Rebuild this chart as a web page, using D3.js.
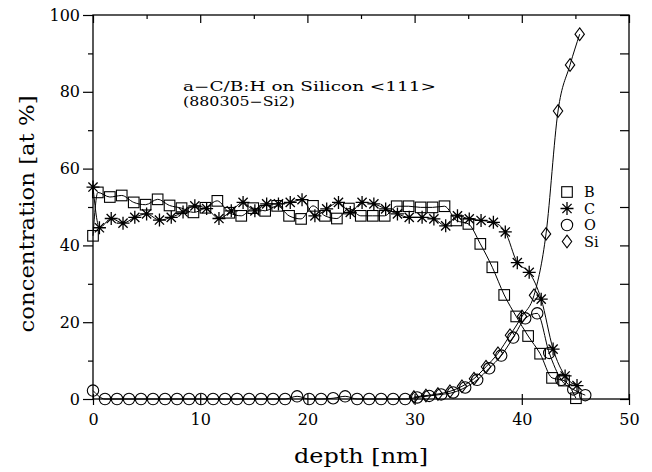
<!DOCTYPE html>
<html><head><meta charset="utf-8">
<script src="https://cdn.jsdelivr.net/npm/d3@7"></script>
<style>html,body{margin:0;padding:0;background:#fff;} svg{display:block;}</style>
</head><body>
<svg id="chart" width="652" height="472"></svg>
<script>
// ---------- data ----------
const depthB = [0, 0.45, 1.57, 2.68, 3.80, 4.91, 6.03, 7.14, 8.26, 9.37, 10.49, 11.60, 12.72, 13.83, 14.95, 16.06, 17.18, 18.29, 19.41, 20.52, 21.64, 22.75, 23.87, 24.98, 26.10, 27.21, 28.33, 29.44, 30.56, 31.67, 32.79, 33.90, 35.02, 36.13, 37.25, 38.36, 39.48, 40.59, 41.71, 42.82, 43.94, 45.05];
const valuesB = [42.5, 53.8, 52.6, 53.0, 51.2, 50.6, 52.0, 50.4, 49.7, 48.6, 49.8, 51.6, 48.5, 47.7, 49.7, 49.0, 50.3, 47.7, 46.9, 50.3, 47.7, 47.0, 49.6, 47.7, 47.7, 47.7, 50.2, 50.2, 49.9, 49.9, 50.2, 46.5, 45.6, 40.4, 34.3, 27.1, 21.5, 16.4, 11.8, 5.5, 4.8, 0.2];

const depthC = [0, 0.6, 1.7, 2.8, 3.9, 5.0, 6.2, 7.3, 8.4, 9.5, 10.6, 11.75, 12.9, 14.0, 15.1, 16.2, 17.3, 18.4, 19.5, 20.7, 21.8, 22.9, 24.0, 25.1, 26.2, 27.3, 28.4, 29.5, 30.7, 31.8, 32.9, 34.0, 35.1, 36.2, 37.35, 38.46, 39.58, 40.69, 41.81, 42.92, 44.04, 45.15];
const valuesC = [55.2, 44.6, 47.0, 45.8, 47.3, 48.2, 46.6, 47.3, 48.7, 50.3, 49.6, 47.0, 49.0, 51.2, 49.0, 50.8, 50.8, 51.2, 51.9, 47.7, 49.5, 51.2, 48.6, 51.2, 50.8, 49.5, 48.2, 47.3, 47.3, 46.9, 45.1, 47.7, 46.9, 46.5, 46.0, 43.5, 35.5, 33.0, 26.0, 13.0, 6.0, 3.5];

const depthO = [0, 1.12, 2.24, 3.36, 4.48, 5.6, 6.72, 7.84, 8.96, 10.08, 11.2, 12.32, 13.44, 14.56, 15.68, 16.8, 17.92, 19.04, 20.16, 21.28, 22.4, 23.52, 24.64, 25.76, 26.88, 28.0, 29.12, 30.24, 31.36, 32.48, 33.6, 34.72, 35.84, 36.96, 38.08, 39.2, 40.32, 41.44, 42.56, 43.68, 44.8, 45.92];
const valuesO = [2.2, 0, 0, 0, 0, 0, 0, 0, 0, 0, 0, 0, 0, 0, 0, 0, 0, 0.7, 0, 0, 0.2, 0.7, 0, 0, 0, 0, 0, 0.4, 0.8, 1.2, 1.7, 3.0, 5.0, 8.0, 11.3, 16.0, 21.0, 22.3, 12.0, 5.0, 2.5, 1.0];

const depthSi = [29.94, 31.06, 32.18, 33.3, 34.42, 35.54, 36.66, 37.78, 38.9, 40.02, 41.14, 42.26, 43.38, 44.5, 45.4];
const valuesSi = [0.5, 0.9, 1.3, 2.0, 3.3, 5.3, 8.4, 11.9, 16.6, 21.5, 27.0, 43.0, 75.0, 87.0, 95.0];

const xTicks = [0, 10, 20, 30, 40, 50];
const xMinorTicks = [5, 15, 25, 35, 45];
const yTicks = [0, 20, 40, 60, 80, 100];
const yMinorTicks = [10, 30, 50, 70, 90];
const xTitle = "depth [nm]";
const yTitle = "concentration [at %]";
const noteLines = ["a\u2212C/B:H on Silicon <111>", "(880305\u2212Si2)"];
const legendNames = ["B", "C", "O", "Si"];
const markerTypes = ["square", "asterisk", "circle", "diamond"];

// ---------- drawing ----------
const svg = d3.select("#chart");
const font = "'DejaVu Serif', 'Liberation Serif', serif";
const x = d3.scaleLinear().domain([0, 50]).range([93, 629]);
const y = d3.scaleLinear().domain([0, 100]).range([399, 15]);
const [x0, x1] = x.range();
const [y0, y1] = y.range();

function styleAxis(g) {
  g.select(".domain").remove();
  g.selectAll("line").attr("stroke", "#000").attr("stroke-width", 1.2);
  g.selectAll("text").attr("font-family", font).attr("font-size", 16).attr("fill", "#000");
}

// left axis (labelled) + minor ticks
svg.append("g").attr("transform", `translate(${x0},0)`)
  .call(d3.axisLeft(y).tickValues(yTicks).tickSize(10).tickPadding(3).tickFormat(d3.format("d")))
  .call(styleAxis);
svg.append("g").attr("transform", `translate(${x0},0)`)
  .call(d3.axisLeft(y).tickValues(yMinorTicks).tickSize(5).tickFormat(""))
  .call(styleAxis);
// right axis: inward ticks
svg.append("g").attr("transform", `translate(${x1},0)`)
  .call(d3.axisRight(y).tickValues(yTicks.concat(yMinorTicks)).tickSize(-9).tickFormat(""))
  .call(styleAxis);
// bottom axis (labelled)
svg.append("g").attr("transform", `translate(0,${y0})`)
  .call(d3.axisBottom(x).tickValues(xTicks).tickSize(6).tickPadding(9).tickFormat(d3.format("d")))
  .call(styleAxis);
svg.append("g").attr("transform", `translate(0,${y0})`)
  .call(d3.axisBottom(x).tickValues(xTicks).tickSize(-5).tickFormat(""))
  .call(styleAxis);
// top axis: inward ticks
svg.append("g").attr("transform", `translate(0,${y1})`)
  .call(d3.axisTop(x).tickValues(xTicks).tickSize(-8).tickFormat(""))
  .call(styleAxis);
svg.append("g").attr("transform", `translate(0,${y1})`)
  .call(d3.axisTop(x).tickValues(xMinorTicks).tickSize(-4).tickFormat(""))
  .call(styleAxis);

// frame
svg.append("rect").attr("x", x0).attr("y", y1).attr("width", x1 - x0).attr("height", y0 - y1)
  .attr("fill", "none").attr("stroke", "#000").attr("stroke-width", 1.3);

// axis titles
svg.append("text").attr("x", (x0 + x1) / 2).attr("y", 463).attr("text-anchor", "middle")
  .attr("font-family", font).attr("font-size", 20).attr("textLength", 134).attr("lengthAdjust", "spacingAndGlyphs")
  .text(xTitle);
svg.append("text").attr("transform", `translate(34,${(y0 + y1) / 2 + 7}) rotate(-90)`).attr("text-anchor", "middle")
  .attr("font-family", font).attr("font-size", 20).attr("textLength", 237).attr("lengthAdjust", "spacingAndGlyphs")
  .text(yTitle);

// note
svg.append("text").attr("x", 183).attr("y", 91).attr("font-family", font).attr("font-size", 12.5)
  .attr("textLength", 253).attr("lengthAdjust", "spacingAndGlyphs").text(noteLines[0]);
svg.append("text").attr("x", 183).attr("y", 106).attr("font-family", font).attr("font-size", 12.5)
  .attr("textLength", 112).attr("lengthAdjust", "spacingAndGlyphs").text(noteLines[1]);

// markers
function marker(g, type, cx, cy) {
  const s = g.append("g").attr("transform", `translate(${cx},${cy})`)
    .attr("fill", "none").attr("stroke", "#000").attr("stroke-width", 1.1);
  if (type === "square") {
    s.append("rect").attr("x", -5.3).attr("y", -5.3).attr("width", 10.6).attr("height", 10.6);
  } else if (type === "circle") {
    s.append("circle").attr("r", 5.7);
  } else if (type === "diamond") {
    s.append("path").attr("d", "M0,-6.3L4.7,0L0,6.3L-4.7,0Z");
  } else {
    const r = 6.5, q = 4.6;
    s.append("path").attr("stroke-width", 1.3)
      .attr("d", `M0,${-r}V${r}M${-r},0H${r}M${-q},${-q}L${q},${q}M${-q},${q}L${q},${-q}`);
  }
}

const series = [
  { depth: depthB, values: valuesB, type: markerTypes[0] },
  { depth: depthC, values: valuesC, type: markerTypes[1] },
  { depth: depthO, values: valuesO, type: markerTypes[2] },
  { depth: depthSi, values: valuesSi, type: markerTypes[3] }
];

const line = d3.line().x(d => x(d[0])).y(d => y(d[1])).curve(d3.curveMonotoneX);
const plot = svg.append("g");
series.forEach(s => {
  const pts = s.depth.map((d, i) => [d, s.values[i]]);
  plot.append("path").datum(pts).attr("d", line)
    .attr("fill", "none").attr("stroke", "#000").attr("stroke-width", 1);
});
series.forEach(s => {
  s.depth.forEach((d, i) => marker(plot, s.type, x(d), y(s.values[i])));
});

// legend
const legendY = [192, 208.5, 225, 241.5];
legendNames.forEach((name, i) => {
  marker(svg, markerTypes[i], 567, legendY[i]);
  svg.append("text").attr("x", 584).attr("y", legendY[i] + 5)
    .attr("font-family", font).attr("font-size", 14.5).text(name);
});
</script>
</body></html>
